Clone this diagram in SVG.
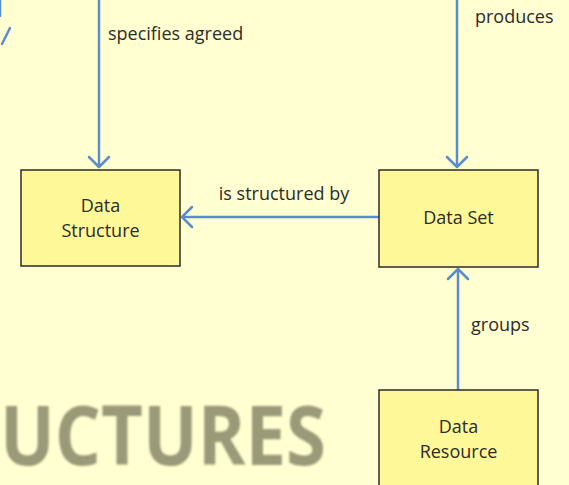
<svg xmlns="http://www.w3.org/2000/svg" width="569" height="485" viewBox="0 0 569 485">
  <defs>
    <marker id="arrow" markerUnits="userSpaceOnUse" markerWidth="24" markerHeight="24" refX="18" refY="12" orient="auto">
      <path d="M8 2 L18 12 L8 22" fill="none" stroke="#5b8ccc" stroke-width="2.5" stroke-linecap="round" stroke-linejoin="round"/>
    </marker>
    <filter id="soft" x="-5%" y="-20%" width="110%" height="140%">
      <feGaussianBlur stdDeviation="1.2"/>
    </filter>
    <style>
      .box { fill: #fff899; stroke: #2b2b2b; stroke-width: 1.5; }
      .lbl { font-family: "Open Sans", "Liberation Sans", Arial, sans-serif; font-size: 18px; fill: #2b2b2b; }
      .mid { text-anchor: middle; }
      .conn { fill: none; stroke: #5b8ccc; stroke-width: 2.5; }
    </style>
  </defs>

  <rect width="569" height="485" fill="#ffffd2"/>

  <!-- large background title -->
  <text x="326" y="465" text-anchor="end" textLength="326" lengthAdjust="spacingAndGlyphs" font-family="'Open Sans', 'Liberation Sans', sans-serif" font-weight="bold" font-size="82" fill="#9a9a78" filter="url(#soft)">UCTURES</text>

  <g id="connectors">
    <!-- edge of an arrow entering from the left -->
    <path class="conn" d="M0 0 L0 17"/>
    <path class="conn" d="M10 28 L2 44" stroke-linecap="round"/>
    <path class="conn" d="M99 0 L99 167" marker-end="url(#arrow)"/>
    <path class="conn" d="M457 0 L457 167" marker-end="url(#arrow)"/>
    <path class="conn" d="M379 217 L182 217" marker-end="url(#arrow)"/>
    <path class="conn" d="M458 390 L458 269" marker-end="url(#arrow)"/>
  </g>

  <g id="edge-labels">
    <text class="lbl" x="108" y="40">specifies agreed</text>
    <text class="lbl" x="475" y="23">produces</text>
    <text class="lbl mid" x="284" y="200">is structured by</text>
    <text class="lbl" x="471" y="331">groups</text>
  </g>

  <g id="data-structure">
    <rect class="box" x="21" y="170" width="159" height="96"/>
    <text class="lbl mid" x="100.5" y="212">Data</text>
    <text class="lbl mid" x="100.5" y="237">Structure</text>
  </g>

  <g id="data-set">
    <rect class="box" x="379" y="170" width="159" height="97"/>
    <text class="lbl mid" x="458.5" y="224">Data Set</text>
  </g>

  <g id="data-resource">
    <rect class="box" x="379" y="390" width="159" height="110"/>
    <text class="lbl mid" x="458.5" y="433">Data</text>
    <text class="lbl mid" x="458.5" y="458">Resource</text>
  </g>
</svg>
